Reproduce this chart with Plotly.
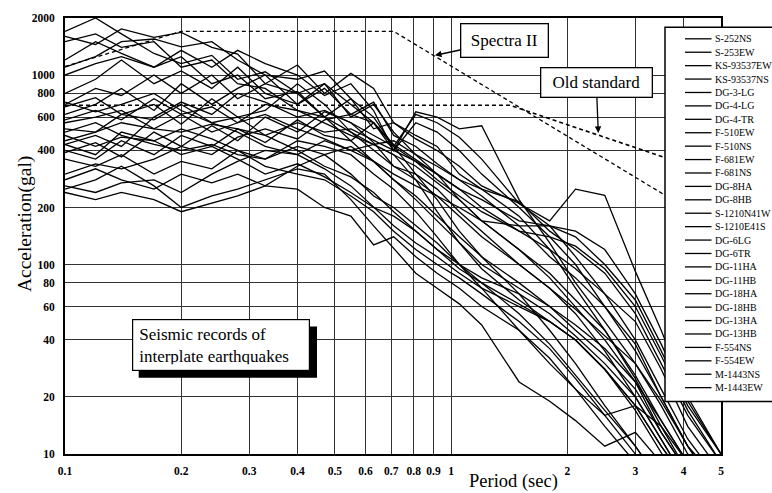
import math
import plotly.graph_objects as go

# ---------------- data ----------------
periods = [0.1, 0.12, 0.14, 0.17, 0.2, 0.24, 0.28, 0.33, 0.4, 0.47, 0.55, 0.63, 0.71,
           0.81, 0.92, 1.05, 1.2, 1.5, 1.8, 2.1, 2.5, 3.0, 3.5, 4.1, 5.0]

names = ["S-252NS", "S-253EW", "KS-93537EW", "KS-93537NS", "DG-3-LG", "DG-4-LG", "DG-4-TR",
         "F-510EW", "F-510NS", "F-681EW", "F-681NS", "DG-8HA", "DG-8HB", "S-1210N41W",
         "S-1210E41S", "DG-6LG", "DG-6TR", "DG-11HA", "DG-11HB", "DG-18HA", "DG-18HB",
         "DG-13HA", "DG-13HB", "F-554NS", "F-554EW", "M-1443NS", "M-1443EW"]

s_252ns = [1700, 2000, 1650, 1300, 1150, 1270, 950, 1040, 800, 900, 700, 560, 400, 640, 600, 520, 540, 220, 130, 80, 50, 30, 18, 10, 6]
s_253ew = [1600, 1450, 1750, 1580, 1680, 1400, 1290, 900, 1130, 800, 1020, 850, 560, 480, 420, 300, 250, 180, 120, 75, 45, 26, 15, 9, 5]
ks_93537ew = [1100, 1250, 1500, 1550, 1410, 1500, 1200, 1000, 950, 1050, 750, 600, 420, 620, 560, 470, 360, 210, 160, 110, 70, 40, 22, 12, 7]
ks_93537ns = [1000, 1150, 1250, 1100, 1350, 1100, 1350, 1150, 1000, 780, 900, 650, 400, 560, 500, 400, 300, 200, 140, 100, 60, 35, 20, 11, 6]
dg_3_lg = [800, 950, 1200, 900, 1050, 850, 1100, 800, 700, 900, 600, 700, 500, 380, 330, 280, 250, 215, 150, 120, 90, 55, 30, 16, 9]
dg_4_lg = [700, 850, 780, 1000, 800, 1000, 750, 900, 800, 600, 750, 520, 560, 460, 400, 330, 260, 210, 170, 250, 232, 92, 45, 20, 10]
dg_4_tr = [620, 700, 850, 650, 900, 700, 850, 1000, 700, 850, 620, 720, 480, 420, 340, 280, 230, 160, 160, 150, 120, 70, 38, 19, 10]
f_510ew = [580, 650, 580, 750, 620, 680, 560, 700, 650, 560, 480, 430, 380, 330, 270, 220, 170, 120, 90, 65, 45, 25, 14, 8, 5]
f_510ns = [520, 500, 560, 520, 500, 550, 520, 480, 560, 500, 520, 450, 400, 350, 300, 250, 200, 150, 120, 95, 70, 50, 28, 14, 8]
f_681ew = [450, 500, 620, 700, 550, 750, 600, 650, 900, 700, 500, 430, 450, 380, 300, 220, 170, 120, 85, 60, 40, 24, 13, 8, 5]
f_681ns = [430, 480, 420, 600, 720, 620, 800, 720, 600, 650, 560, 440, 330, 300, 250, 190, 150, 100, 75, 55, 35, 20, 12, 7, 4]
dg_8ha = [400, 360, 450, 380, 480, 420, 520, 440, 580, 480, 450, 560, 430, 360, 300, 250, 220, 170, 160, 140, 100, 65, 35, 18, 10]
dg_8hb = [390, 440, 370, 500, 420, 540, 450, 600, 500, 640, 560, 480, 420, 350, 280, 230, 190, 150, 140, 125, 95, 60, 33, 17, 9]
s_1210n41w = [360, 330, 380, 300, 350, 320, 400, 360, 450, 420, 380, 300, 250, 190, 140, 100, 75, 45, 32, 22, 14, 9, 6, 4, 3]
s_1210e41s = [300, 340, 320, 360, 420, 380, 470, 520, 460, 580, 620, 560, 420, 300, 220, 150, 110, 70, 45, 30, 18, 11, 7, 4, 3]
dg_6lg = [280, 320, 280, 250, 300, 270, 300, 260, 330, 380, 420, 350, 300, 260, 230, 200, 170, 160, 110, 85, 60, 38, 20, 11, 6]
dg_6tr = [260, 240, 270, 280, 240, 300, 350, 400, 380, 450, 400, 430, 380, 280, 190, 130, 95, 65, 50, 40, 28, 18, 11, 7, 4]
dg_11ha = [250, 280, 330, 260, 200, 230, 250, 280, 320, 300, 220, 160, 121, 90, 75, 62, 48, 24, 19, 15, 11, 13, 9, 6, 4]
dg_11hb = [240, 220, 240, 220, 190, 210, 230, 260, 250, 200, 180, 127, 140, 110, 90, 75, 60, 45, 30, 22, 16, 18, 14, 9, 6]
dg_18ha = [500, 560, 480, 430, 400, 430, 380, 360, 420, 380, 300, 230, 200, 160, 130, 100, 80, 55, 38, 26, 17, 11, 7, 4, 3]
dg_18hb = [480, 420, 470, 450, 520, 460, 400, 330, 300, 280, 230, 190, 150, 120, 100, 85, 70, 50, 36, 25, 16, 10, 6, 4, 3]
dg_13ha = [680, 760, 620, 580, 700, 560, 500, 420, 380, 320, 260, 200, 160, 130, 110, 90, 75, 60, 50, 40, 28, 18, 11, 7, 4]
dg_13hb = [720, 640, 700, 800, 650, 560, 600, 480, 400, 330, 290, 240, 190, 150, 120, 100, 85, 70, 55, 42, 30, 20, 12, 7, 4]
f_554ns = [1200, 1500, 1300, 1100, 1250, 900, 1000, 750, 820, 600, 500, 400, 330, 280, 230, 180, 140, 100, 75, 58, 42, 30, 19, 11, 7]
f_554ew = [1500, 1650, 1400, 1500, 1100, 1200, 900, 850, 650, 600, 450, 350, 280, 230, 180, 140, 110, 80, 60, 45, 33, 22, 13, 8, 5]
m_1443ns = [430, 380, 500, 450, 380, 420, 360, 300, 340, 290, 240, 200, 180, 150, 120, 95, 80, 62, 50, 40, 28, 17, 10, 6, 4]
m_1443ew = [560, 600, 650, 520, 620, 500, 560, 620, 520, 460, 400, 350, 280, 220, 170, 130, 100, 75, 60, 48, 36, 24, 15, 9, 5]

series = [s_252ns, s_253ew, ks_93537ew, ks_93537ns, dg_3_lg, dg_4_lg, dg_4_tr, f_510ew, f_510ns,
          f_681ew, f_681ns, dg_8ha, dg_8hb, s_1210n41w, s_1210e41s, dg_6lg, dg_6tr, dg_11ha,
          dg_11hb, dg_18ha, dg_18hb, dg_13ha, dg_13hb, f_554ns, f_554ew, m_1443ns, m_1443ew]

spectra2_T = [0.1, 0.2, 0.71, 5.0]
spectra2_A = [1110, 1700, 1700, 154]
old_T = [0.1, 1.42, 5.0]
old_A = [693, 693, 291]

x_ticks = [0.1, 0.2, 0.3, 0.4, 0.5, 0.6, 0.7, 0.8, 0.9, 1, 2, 3, 4, 5]
x_ticktext = ["0.1", "0.2", "0.3", "0.4", "0.5", "0.6", "0.7", "0.8", "0.9", "1", "2", "3", "4", "5"]
y_ticks = [10, 20, 40, 60, 80, 100, 200, 400, 600, 800, 1000, 2000]
y_ticktext = ["10", "20", "40", "60", "80", "100", "200", "400", "600", "800", "1000", "2000"]

# ---------------- layout geometry (pixels) ----------------
W, H = 772, 493
ML, MR, MT, MB = 65, 51, 14, 39
PW, PH = W - ML - MR, H - MT - MB


def px(xp):
    return (xp - ML) / PW


def py(yp):
    return (H - MB - yp) / PH


SERIF = "Liberation Serif, Times New Roman, serif"

fig = go.Figure()
for name, vals in zip(names, series):
    fig.add_trace(go.Scatter(x=periods, y=vals, mode="lines", name=name,
                             line=dict(color="black", width=1.3), showlegend=False))
fig.add_trace(go.Scatter(x=spectra2_T, y=spectra2_A, mode="lines", name="Spectra II",
                         line=dict(color="black", width=1.3, dash="4px,3px"), showlegend=False))
fig.add_trace(go.Scatter(x=old_T, y=old_A, mode="lines", name="Old standard",
                         line=dict(color="black", width=1.6, dash="4px,3px"), showlegend=False))

axis_common = dict(type="log", showgrid=True, gridcolor="#333333", gridwidth=1,
                   showline=True, linecolor="black", linewidth=2, mirror=True,
                   ticks="", zeroline=False,
                   tickfont=dict(family=SERIF, size=11.5, color="black", weight="bold"))

fig.update_xaxes(range=[-1, math.log10(5)], tickvals=x_ticks, ticktext=x_ticktext,
                 ticklabelstandoff=5, **axis_common)
fig.update_yaxes(range=[1, math.log10(2000)], tickvals=y_ticks, ticktext=y_ticktext,
                 ticklabelstandoff=6, **axis_common)

shapes = []
annotations = []

# shadow of the "Seismic records" box
shapes.append(dict(type="rect", xref="paper", yref="paper", layer="above",
                   x0=px(138.7), x1=px(317), y0=py(377), y1=py(325.3),
                   fillcolor="black", line=dict(color="black", width=0)))

# legend box (drawn manually)
shapes.append(dict(type="rect", xref="paper", yref="paper", layer="above",
                   x0=px(665), x1=px(790), y0=py(401), y1=py(23.3),
                   fillcolor="white", line=dict(color="black", width=1.5)))
for i, name in enumerate(names):
    yy = 35 + i * 13.54
    shapes.append(dict(type="line", xref="paper", yref="paper", layer="above",
                       x0=px(685), x1=px(711.5), y0=py(yy), y1=py(yy),
                       line=dict(color="black", width=1.3)))
    annotations.append(dict(text=name, xref="paper", yref="paper", x=px(712.5), y=py(yy),
                            xanchor="left", yanchor="middle", showarrow=False,
                            font=dict(family=SERIF, size=10, color="black")))

# callouts
annotations.append(dict(text="Spectra II", xref="paper", yref="paper",
                        x=px(435), y=py(51.7), ax=70, ay=-15,
                        showarrow=True, arrowhead=2, arrowsize=1, arrowwidth=1.3,
                        arrowcolor="black", bgcolor="white", bordercolor="black",
                        borderwidth=1.3, borderpad=1, width=84, height=30,
                        font=dict(family=SERIF, size=17, color="black")))
annotations.append(dict(text="Old standard", xref="paper", yref="paper",
                        x=px(598.3), y=py(130), ax=-2, ay=-50,
                        showarrow=True, arrowhead=2, arrowsize=1, arrowwidth=1.3,
                        arrowcolor="black", bgcolor="white", bordercolor="black",
                        borderwidth=1.3, borderpad=1, width=108, height=26,
                        font=dict(family=SERIF, size=17, color="black")))
annotations.append(dict(text="Seismic records of<br>interplate earthquakes", xref="paper",
                        yref="paper", x=px(220.8), y=py(344.2), xanchor="center",
                        yanchor="middle", showarrow=False, align="left",
                        bgcolor="white", bordercolor="black", borderwidth=1.2,
                        borderpad=6, width=164, height=38,
                        font=dict(family=SERIF, size=17, color="black")))

# axis titles
annotations.append(dict(text="Period (sec)", xref="paper", yref="paper",
                        x=px(513), y=py(482), xanchor="center", yanchor="middle",
                        showarrow=False, font=dict(family=SERIF, size=18.5, color="black")))
annotations.append(dict(text="Acceleration(gal)", xref="paper", yref="paper",
                        x=px(25), y=py(222), xanchor="center", yanchor="middle",
                        textangle=-90, showarrow=False,
                        font=dict(family=SERIF, size=19.5, color="black")))

fig.update_layout(width=W, height=H, autosize=False,
                  margin=dict(l=ML, r=MR, t=MT, b=MB, pad=0),
                  plot_bgcolor="white", paper_bgcolor="white",
                  showlegend=False, shapes=shapes, annotations=annotations)

fig.write_html("out.html")
